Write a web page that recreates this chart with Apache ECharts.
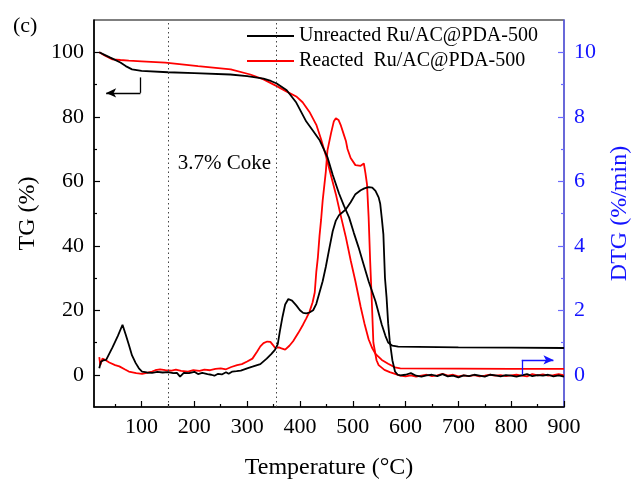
<!DOCTYPE html>
<html>
<head>
<meta charset="utf-8">
<script src="https://cdn.jsdelivr.net/npm/echarts@6/dist/echarts.min.js"></script>
<style>
  html, body { margin: 0; padding: 0; background: #fff; }
  #grafica { width: 640px; height: 485px; }
</style>
</head>
<body>
<div id="grafica"></div>
<script>
// Nombres de las muestras
const nombreSinReaccion = 'Unreacted Ru/AC@PDA-500';
const nombreReaccionado = 'Reacted  Ru/AC@PDA-500';

// Ticks de los ejes
const ticksTemp = [100, 200, 300, 400, 500, 600, 700, 800, 900];
const ticksTempMenores = [50, 150, 250, 350, 450, 550, 650, 750, 850];
const ticksTG = [0, 20, 40, 60, 80, 100];
const ticksTGMenores = [10, 30, 50, 70, 90];
const ticksDTG = [0, 2, 4, 6, 8, 10];
const ticksDTGMenores = [1, 3, 5, 7, 9];

// Líneas punteadas (temperatura)
const lineasPunteadas = [150, 355];

// TG sin reaccionar [temperatura, %]
const tgSinReaccion = [
  [20, 100], [30, 99.2], [40, 98.4], [48, 97.8], [60, 96.8], [70, 95.7], [82, 94.7],
  [100, 94.2], [150, 93.8], [200, 93.5], [268, 93.1], [300, 92.6], [319, 92.1],
  [331, 91.8], [345, 91.1], [356, 90.3], [375, 88.2], [393, 84.4], [412, 78.5],
  [425, 75.6], [437, 72.8], [452, 67.5], [462, 62], [474, 56.2], [483, 52.5],
  [493, 48.8], [502, 44], [511, 39.5], [520, 34.5], [530, 29], [543, 22.8],
  [555, 15.5], [562, 12], [567, 10], [575, 9], [586, 8.7], [700, 8.5], [800, 8.4], [900, 8.3]
];

// TG reaccionado [temperatura, %]
const tgReaccionado = [
  [20, 100], [30, 99], [45, 97.8], [60, 97.6], [76, 97.4], [100, 97.2], [145, 96.8],
  [207, 95.7], [269, 94.7], [306, 93.1], [331, 91.6], [356, 89.5], [375, 87.8],
  [393, 86.3], [405, 84.5], [418, 81.5], [431, 77.5], [440, 73], [449, 68],
  [460, 61], [468, 56], [477, 49.5], [487, 42.6], [496, 35.5], [505, 29], [515, 21],
  [522, 16], [530, 11], [537, 8.2], [543, 6.5], [555, 4.6], [567, 3.4], [580, 2.3],
  [590, 2.0], [700, 1.9], [800, 1.8], [900, 1.8]
];

// DTG sin reaccionar [temperatura, %/min]
const dtgSinReaccion = [
  [20, 0.2], [23, 0.4], [28, 0.45], [33, 0.46], [45, 0.85], [55, 1.2], [64, 1.55],
  [70, 1.25], [76, 0.93], [82, 0.6], [89, 0.36], [95, 0.2], [101, 0.1], [110, 0.07],
  [120, 0.06], [130, 0.09], [140, 0.07], [150, 0.08], [160, 0.05], [167, 0.06],
  [173, -0.06], [180, 0.06], [190, 0.05], [200, 0.09], [207, 0.02], [215, 0.06],
  [225, 0.02], [232, 0.0], [238, -0.03], [245, 0.03], [252, 0.01], [260, 0.08],
  [265, 0.03], [272, 0.1], [280, 0.11], [288, 0.13], [300, 0.2], [310, 0.25],
  [325, 0.33], [337, 0.5], [346, 0.65], [353, 0.78], [358, 0.95], [362, 1.35],
  [367, 1.8], [372, 2.18], [378, 2.35], [385, 2.3], [393, 2.15], [400, 2.0],
  [406, 1.92], [412, 1.9], [418, 1.93], [425, 2.0], [431, 2.2], [437, 2.55],
  [443, 2.9], [449, 3.35], [456, 3.95], [462, 4.45], [468, 4.78], [474, 4.95],
  [480, 5.03], [487, 5.13], [496, 5.35], [505, 5.6], [515, 5.72], [522, 5.78],
  [530, 5.82], [537, 5.8], [543, 5.7], [549, 5.5], [552, 5.3], [555, 4.85],
  [558, 4.35], [561, 3.0], [564, 2.4], [567, 1.6], [570, 1.05], [575, 0.45],
  [580, 0.1], [585, 0.0], [590, -0.02], [600, 0.0], [610, 0.05], [620, -0.03],
  [630, -0.06], [640, -0.02], [650, 0.0], [660, -0.04], [670, 0.02], [680, -0.05],
  [690, -0.03], [700, -0.08], [710, -0.02], [720, -0.04], [730, 0.0], [740, -0.03],
  [750, -0.06], [760, 0.0], [770, -0.02], [780, -0.05], [790, -0.01], [800, -0.03],
  [810, -0.06], [820, -0.02], [830, 0.02], [840, -0.04], [850, -0.01], [860, -0.03],
  [870, 0.0], [880, -0.05], [890, -0.02], [900, -0.06]
];

// DTG reaccionado [temperatura, %/min]
const dtgReaccionado = [
  [20, 0.55], [22, 0.3], [26, 0.5], [30, 0.47], [39, 0.38], [50, 0.3], [58, 0.26],
  [68, 0.17], [76, 0.1], [90, 0.05], [101, 0.03], [110, 0.06], [120, 0.1], [126, 0.14],
  [135, 0.17], [145, 0.14], [157, 0.13], [165, 0.16], [175, 0.12], [188, 0.1],
  [198, 0.14], [210, 0.12], [219, 0.16], [230, 0.14], [240, 0.18], [250, 0.2],
  [260, 0.17], [270, 0.24], [281, 0.3], [290, 0.33], [300, 0.41], [310, 0.5],
  [319, 0.72], [325, 0.88], [331, 0.98], [338, 1.03], [344, 1.02], [349, 0.92],
  [353, 0.83], [360, 0.85], [365, 0.82], [372, 0.78], [380, 0.9], [387, 1.04],
  [397, 1.3], [406, 1.56], [412, 1.75], [418, 1.95], [424, 2.25], [428, 2.55],
  [431, 3.2], [434, 3.65], [437, 4.3], [440, 4.8], [443, 5.4], [449, 6.3],
  [452, 6.95], [459, 7.5], [464, 7.85], [468, 7.95], [473, 7.9], [477, 7.75],
  [482, 7.5], [487, 7.25], [490, 7.0], [496, 6.72], [505, 6.5], [515, 6.48],
  [521, 6.55], [524, 6.25], [527, 5.9], [530, 4.9], [533, 3.5], [536, 2.3],
  [539, 1.0], [545, 0.45], [549, 0.3], [560, 0.15], [570, 0.08], [580, 0.03],
  [590, -0.03], [600, -0.05], [610, -0.02], [620, -0.06], [630, -0.03], [640, 0.0],
  [650, -0.04], [660, -0.02], [670, 0.03], [680, -0.03], [690, 0.0], [700, -0.05],
  [710, -0.02], [720, -0.04], [730, -0.01], [740, -0.05], [750, -0.03], [760, 0.0],
  [770, -0.03], [780, -0.01], [790, -0.04], [800, -0.02], [810, 0.0], [820, -0.03],
  [830, -0.05], [840, 0.02], [850, -0.02], [860, 0.01], [870, -0.03], [880, -0.01],
  [890, 0.02], [900, -0.02]
];

const fuente = "'Liberation Serif', 'Times New Roman', serif";
const azul = '#1414ff';

function ejeMenor(tipo, min, max, pos, valores) {
  return {
    type: 'value', min: min, max: max, position: pos,
    axisLine: { show: false, onZero: false },
    axisTick: { show: true, inside: true, length: 3, customValues: valores,
      lineStyle: { color: tipo === 'azul' ? '#6a6aff' : '#000', width: 1.2 } },
    axisLabel: { show: false },
    splitLine: { show: false }
  };
}

const chart = echarts.init(document.getElementById('grafica'));

chart.setOption({
  animation: false,
  title: {
    text: '(c)', left: 8, top: 10,
    textStyle: { fontFamily: fuente, fontSize: 22, fontWeight: 'normal', color: '#000' }
  },
  legend: {
    orient: 'vertical', left: 242, top: 21,
    icon: 'rect', itemWidth: 47, itemHeight: 2, itemGap: 5,
    data: [nombreSinReaccion, nombreReaccionado],
    textStyle: { fontFamily: fuente, fontSize: 20, color: '#000' }
  },
  grid: { left: 94, right: 68, top: 20, bottom: 78, show: true, borderColor: '#000', borderWidth: 1.2 },
  xAxis: [
    {
      type: 'value', min: 10, max: 900, position: 'bottom',
      name: 'Temperature (°C)', nameLocation: 'middle', nameGap: 49,
      nameTextStyle: { fontFamily: fuente, fontSize: 24, color: '#000' },
      axisLine: { onZero: false, lineStyle: { color: '#000', width: 1.5 } },
      axisTick: { inside: true, length: 6, customValues: ticksTemp, lineStyle: { width: 1.2 } },
      axisLabel: { customValues: ticksTemp, fontFamily: fuente, fontSize: 22, color: '#000', margin: 9 },
      splitLine: { show: false }
    },
    ejeMenor('negro', 10, 900, 'bottom', ticksTempMenores)
  ],
  yAxis: [
    {
      type: 'value', min: -10, max: 110, position: 'left',
      name: 'TG (%)', nameLocation: 'middle', nameGap: 54,
      nameTextStyle: { fontFamily: fuente, fontSize: 24, color: '#000' },
      axisLine: { onZero: false, lineStyle: { color: '#000', width: 1.5 } },
      axisTick: { inside: true, length: 6, customValues: ticksTG, lineStyle: { width: 1.2 } },
      axisLabel: { customValues: ticksTG, fontFamily: fuente, fontSize: 22, color: '#000', margin: 10 },
      splitLine: { show: false }
    },
    {
      type: 'value', min: -1, max: 11, position: 'right',
      name: 'DTG (%/min)', nameLocation: 'middle', nameGap: 44,
      nameTextStyle: { fontFamily: fuente, fontSize: 24, color: azul },
      axisLine: { onZero: false, lineStyle: { color: '#6a6aff', width: 1.5 } },
      axisTick: { inside: true, length: 6, customValues: ticksDTG, lineStyle: { color: '#6a6aff', width: 1.2 } },
      axisLabel: { customValues: ticksDTG, fontFamily: fuente, fontSize: 22, color: azul, margin: 10 },
      splitLine: { show: false }
    },
    ejeMenor('negro', -10, 110, 'left', ticksTGMenores),
    ejeMenor('azul', -1, 11, 'right', ticksDTGMenores)
  ],
  series: [
    {
      name: nombreSinReaccion, type: 'line', xAxisIndex: 0, yAxisIndex: 0,
      data: tgSinReaccion, symbol: 'none', lineStyle: { color: '#000', width: 1.8 }, itemStyle: { color: '#000' },
      z: 3,
      markLine: {
        silent: true, label: { show: false }, symbol: 'none',
        lineStyle: { color: '#444', type: [1.5, 3], width: 1 },
        data: [
          { xAxis: lineasPunteadas[0] },
          { xAxis: lineasPunteadas[1] },
          [{ coord: [98, 92.2], symbol: 'none', lineStyle: { color: '#000', type: 'solid', width: 1.3 } },
           { coord: [98, 87.4], symbol: 'none' }],
          [{ coord: [98, 87.4], symbol: 'none', lineStyle: { color: '#000', type: 'solid', width: 1.3 } },
           { coord: [33, 87.4], symbol: 'arrow', symbolSize: [7, 10] }]
        ]
      },
      markPoint: {
        silent: true, symbol: 'circle', symbolSize: 0,
        label: { show: true, position: 'inside', formatter: '3.7% Coke', fontFamily: fuente, fontSize: 21, color: '#000' },
        data: [{ coord: [257, 65.6] }]
      }
    },
    {
      name: nombreReaccionado, type: 'line', xAxisIndex: 0, yAxisIndex: 0,
      data: tgReaccionado, symbol: 'none', lineStyle: { color: '#ff0000', width: 1.8 }, itemStyle: { color: '#ff0000' },
      z: 2
    },
    {
      name: nombreSinReaccion, type: 'line', xAxisIndex: 0, yAxisIndex: 1,
      data: dtgSinReaccion, symbol: 'none', lineStyle: { color: '#000', width: 1.8 }, itemStyle: { color: '#000' },
      z: 3,
      markLine: {
        silent: true, label: { show: false }, symbol: 'none',
        lineStyle: { color: azul, type: 'solid', width: 1.3 },
        data: [
          [{ coord: [820, 0], symbol: 'none' }, { coord: [820, 0.46], symbol: 'none' }],
          [{ coord: [820, 0.46], symbol: 'none' }, { coord: [880, 0.46], symbol: 'arrow', symbolSize: [7, 10] }]
        ]
      }
    },
    {
      name: nombreReaccionado, type: 'line', xAxisIndex: 0, yAxisIndex: 1,
      data: dtgReaccionado, symbol: 'none', lineStyle: { color: '#ff0000', width: 1.8 }, itemStyle: { color: '#ff0000' },
      z: 2
    }
  ]
});
</script>
</body>
</html>
